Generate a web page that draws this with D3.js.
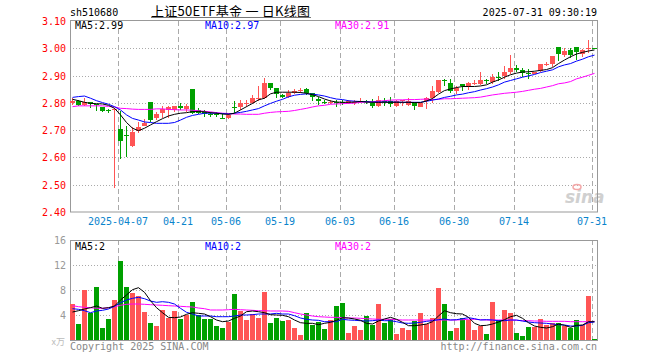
<!DOCTYPE html>
<html lang="zh">
<head>
<meta charset="UTF-8">
<title>上证50ETF基金 日K线图</title>
<script src="https://d3js.org/d3.v7.min.js"></script>
<style>
    body { margin: 0; background: #fff; }
    svg { display: block; }
    text { font-family: "DejaVu Sans Mono", monospace; font-size: 10px; }
    .title { font-family: "Noto Sans CJK SC", sans-serif; font-size: 13px; }
</style>
</head>
<body>
<svg id="chart" width="660" height="360"></svg>
<script>
// trading days shown, one per candle
const dates = [
    "2025-03-25","2025-03-26","2025-03-27","2025-03-28","2025-03-31","2025-04-01","2025-04-02","2025-04-03",
    "2025-04-07","2025-04-08","2025-04-09","2025-04-10","2025-04-11","2025-04-14","2025-04-15","2025-04-16",
    "2025-04-17","2025-04-18","2025-04-21","2025-04-22","2025-04-23","2025-04-24","2025-04-25","2025-04-28",
    "2025-04-29","2025-04-30","2025-05-06","2025-05-07","2025-05-08","2025-05-09","2025-05-12","2025-05-13",
    "2025-05-14","2025-05-15","2025-05-16","2025-05-19","2025-05-20","2025-05-21","2025-05-22","2025-05-23",
    "2025-05-26","2025-05-27","2025-05-28","2025-05-29","2025-05-30","2025-06-03","2025-06-04","2025-06-05",
    "2025-06-06","2025-06-09","2025-06-10","2025-06-11","2025-06-12","2025-06-13","2025-06-16","2025-06-17",
    "2025-06-18","2025-06-19","2025-06-20","2025-06-23","2025-06-24","2025-06-25","2025-06-26","2025-06-27",
    "2025-06-30","2025-07-01","2025-07-02","2025-07-03","2025-07-04","2025-07-07","2025-07-08","2025-07-09",
    "2025-07-10","2025-07-11","2025-07-14","2025-07-15","2025-07-16","2025-07-17","2025-07-18","2025-07-21",
    "2025-07-22","2025-07-23","2025-07-24","2025-07-25","2025-07-28","2025-07-29","2025-07-30","2025-07-31"
];

const open = [
    2.800,2.807,2.792,2.802,2.795,2.783,2.775,2.774,2.704,2.683,
    2.642,2.696,2.715,2.803,2.743,2.762,2.772,2.772,2.790,2.778,
    2.851,2.772,2.770,2.758,2.758,2.745,2.746,2.786,2.784,2.797,
    2.798,2.815,2.817,2.872,2.853,2.830,2.823,2.836,2.846,2.851,
    2.835,2.814,2.802,2.800,2.804,2.803,2.800,2.801,2.803,2.806,
    2.801,2.790,2.808,2.807,2.790,2.807,2.792,2.800,2.786,2.805,
    2.817,2.838,2.885,2.872,2.845,2.870,2.863,2.871,2.870,2.883,
    2.876,2.893,2.897,2.913,2.929,2.919,2.910,2.904,2.917,2.943,
    2.942,3.004,2.976,2.994,3.004,2.979,2.998,3.000
];
const high = [
    2.817,2.810,2.817,2.804,2.797,2.786,2.779,2.780,2.770,2.715,
    2.713,2.731,2.740,2.803,2.765,2.787,2.790,2.790,2.798,2.797,
    2.851,2.780,2.773,2.768,2.768,2.763,2.763,2.805,2.810,2.810,
    2.827,2.860,2.890,2.874,2.853,2.833,2.847,2.849,2.855,2.855,
    2.837,2.823,2.810,2.810,2.812,2.810,2.810,2.810,2.817,2.812,
    2.813,2.826,2.818,2.822,2.811,2.811,2.817,2.804,2.800,2.823,
    2.860,2.885,2.887,2.888,2.860,2.870,2.876,2.882,2.913,2.888,
    2.907,2.913,2.934,2.975,2.938,2.929,2.923,2.913,2.942,2.950,
    2.971,3.004,3.000,3.000,3.004,2.997,3.029,3.002
];
const low = [
    2.792,2.790,2.790,2.780,2.770,2.768,2.762,2.489,2.593,2.603,
    2.640,2.690,2.715,2.731,2.738,2.743,2.743,2.765,2.773,2.767,
    2.760,2.758,2.749,2.747,2.749,2.741,2.741,2.762,2.774,2.786,
    2.795,2.805,2.815,2.847,2.817,2.817,2.817,2.832,2.836,2.829,
    2.805,2.793,2.795,2.796,2.786,2.793,2.797,2.793,2.800,2.797,
    2.782,2.786,2.790,2.786,2.786,2.790,2.790,2.774,2.784,2.778,
    2.800,2.836,2.860,2.836,2.831,2.845,2.847,2.864,2.864,2.870,
    2.870,2.881,2.888,2.906,2.913,2.894,2.888,2.904,2.913,2.935,
    2.932,2.954,2.969,2.963,2.957,2.969,2.984,2.997
];
const close = [
    2.806,2.793,2.802,2.795,2.792,2.771,2.773,2.778,2.660,2.681,
    2.695,2.712,2.727,2.737,2.758,2.777,2.784,2.788,2.780,2.787,
    2.764,2.762,2.760,2.757,2.757,2.743,2.756,2.785,2.798,2.799,
    2.817,2.818,2.872,2.856,2.832,2.823,2.835,2.845,2.848,2.835,
    2.820,2.805,2.800,2.802,2.802,2.801,2.808,2.803,2.805,2.804,
    2.790,2.811,2.806,2.796,2.808,2.809,2.805,2.790,2.798,2.819,
    2.842,2.883,2.883,2.845,2.855,2.863,2.872,2.873,2.882,2.882,
    2.894,2.892,2.913,2.929,2.919,2.910,2.909,2.913,2.942,2.944,
    2.971,2.979,2.991,2.975,2.988,2.994,3.000,2.999
];

const ma5 = [
    2.813,2.808,2.802,2.798,2.797,2.796,2.791,2.780,2.756,2.728,
    2.707,2.698,2.707,2.719,2.731,2.742,2.752,2.758,2.762,2.764,
    2.768,2.768,2.767,2.764,2.762,2.759,2.758,2.762,2.774,2.786,
    2.798,2.811,2.817,2.833,2.839,2.839,2.839,2.839,2.838,2.835,
    2.830,2.823,2.814,2.807,2.803,2.802,2.802,2.803,2.805,2.803,
    2.802,2.802,2.802,2.802,2.802,2.802,2.802,2.801,2.801,2.807,
    2.816,2.832,2.845,2.851,2.856,2.860,2.860,2.860,2.862,2.866,
    2.876,2.884,2.894,2.903,2.909,2.913,2.914,2.916,2.919,2.922,
    2.929,2.944,2.957,2.969,2.979,2.985,2.990,2.994
];
const ma10 = [
    2.820,2.823,2.825,2.817,2.808,2.801,2.795,2.786,2.774,2.756,
    2.743,2.737,2.730,2.728,2.725,2.725,2.725,2.728,2.737,2.747,
    2.754,2.758,2.762,2.762,2.762,2.761,2.759,2.762,2.765,2.769,
    2.774,2.779,2.789,2.798,2.806,2.813,2.822,2.828,2.831,2.833,
    2.832,2.829,2.825,2.819,2.814,2.812,2.808,2.806,2.805,2.804,
    2.803,2.803,2.803,2.803,2.803,2.802,2.802,2.802,2.802,2.806,
    2.810,2.814,2.820,2.824,2.829,2.832,2.837,2.841,2.847,2.852,
    2.858,2.866,2.876,2.882,2.888,2.894,2.899,2.904,2.911,2.916,
    2.921,2.932,2.939,2.944,2.953,2.960,2.969,2.975
];
const ma30 = [
    2.786,2.789,2.789,2.789,2.789,2.789,2.787,2.785,2.780,2.779,
    2.777,2.776,2.776,2.776,2.778,2.778,2.776,2.775,2.774,2.774,
    2.773,2.771,2.769,2.767,2.764,2.762,2.761,2.759,2.759,2.758,
    2.758,2.758,2.762,2.765,2.767,2.768,2.769,2.772,2.776,2.780,
    2.785,2.789,2.791,2.795,2.796,2.797,2.798,2.799,2.802,2.803,
    2.804,2.806,2.808,2.810,2.811,2.811,2.812,2.812,2.813,2.814,
    2.812,2.813,2.815,2.815,2.816,2.817,2.818,2.819,2.821,2.825,
    2.829,2.832,2.835,2.837,2.839,2.842,2.846,2.850,2.853,2.858,
    2.863,2.870,2.873,2.878,2.888,2.894,2.901,2.908
];

// volume, in 万
const volume = [
    5.8,2.56,8.0,4.4,8.5,1.9,3.4,6.4,12.6,8.5,
    7.6,7.0,4.5,2.8,2.24,4.8,3.5,4.6,3.4,4.0,
    6.1,4.0,3.4,3.4,2.24,1.9,2.9,7.4,4.7,3.2,
    4.2,3.6,7.7,2.8,3.6,3.1,3.2,1.9,0.8,4.4,
    2.4,2.9,1.8,3.2,5.4,6.0,1.2,2.24,1.6,3.84,
    2.4,5.76,2.8,3.3,0.96,2.0,1.6,3.1,4.3,2.5,
    3.5,8.3,5.76,1.44,2.0,3.5,3.2,1.6,2.24,0.96,
    6.1,3.2,4.8,4.4,1.2,0.64,2.1,2.1,3.3,2.4,
    2.7,2.7,2.3,2.0,3.2,2.4,7.0,0.2
];
const volMa5 = [
    4.48,4.69,4.96,5.17,5.44,5.07,5.17,5.44,6.4,7.2,
    8.05,8.37,7.63,6.29,5.17,4.37,3.63,3.57,3.68,4.11,
    4.37,4.27,4.16,3.73,3.2,2.93,3.04,3.47,3.84,4.53,
    4.64,4.53,4.37,4.05,4.0,3.95,3.73,3.2,2.77,2.67,
    2.67,2.45,2.67,2.83,3.15,3.57,3.52,3.36,3.15,2.67,
    2.56,3.04,3.36,3.63,3.31,2.83,2.29,2.29,2.4,2.56,
    2.93,3.84,4.69,4.37,4.21,4.16,3.63,2.67,2.29,2.35,
    2.56,2.88,3.25,3.73,3.95,3.47,2.77,2.24,2.03,1.92,
    2.13,2.56,2.35,2.03,2.35,2.4,2.93,2.93
];
const volMa10 = [
    5.01,4.91,4.69,4.37,4.64,4.75,4.96,5.39,5.97,6.4,
    6.67,6.83,6.61,6.24,6.03,6.13,6.03,5.76,5.07,4.43,
    4.16,3.84,3.84,3.84,3.73,3.73,3.73,3.84,4.0,4.0,
    4.05,4.16,4.16,4.16,4.27,4.16,4.16,3.89,3.52,3.31,
    3.2,3.15,2.93,2.93,2.93,3.31,3.2,3.15,3.09,3.04,
    3.09,3.2,3.09,3.09,2.93,2.72,2.67,2.72,2.83,2.99,
    3.09,3.25,3.36,3.2,3.25,3.41,3.57,3.41,3.2,3.25,
    3.2,3.09,3.09,3.2,3.2,3.04,2.88,2.77,2.72,2.67,
    2.56,2.45,2.4,2.24,2.24,2.35,2.77,2.88
];
const volMa30 = [
    5.49,5.33,5.23,5.17,5.07,5.07,5.17,5.33,5.55,5.71,
    5.76,5.76,5.71,5.65,5.6,5.55,5.49,5.44,5.39,5.33,
    5.28,5.12,5.01,4.8,4.8,4.8,4.85,4.91,4.85,4.8,
    4.75,4.69,4.69,4.64,4.64,4.64,4.59,4.37,4.16,4.0,
    3.84,3.73,3.68,3.63,3.63,3.57,3.52,3.52,3.47,3.41,
    3.36,3.31,3.31,3.31,3.25,3.2,3.2,3.2,3.2,3.2,
    3.2,3.2,3.2,3.2,3.2,3.25,3.31,3.31,3.25,3.2,
    3.2,3.2,3.2,3.2,3.15,3.09,3.09,3.04,3.04,2.99,
    2.99,2.99,2.99,2.93,2.93,2.93,2.93,2.99
];

const priceTicks = [2.40, 2.50, 2.60, 2.70, 2.80, 2.90, 3.00, 3.10];
const volTicks = [4, 8, 12, 16];
const tickDates = ["2025-04-07","2025-04-21","2025-05-06","2025-05-19","2025-06-03","2025-06-16","2025-06-30","2025-07-14","2025-07-31"];
const tickLabels = ["2025-04-07","04-21","05-06","05-19","06-03","06-16","06-30","07-14","07-31"];

const upColor = "#ff5555";
const downColor = "#00a000";

const svg = d3.select("#chart");
const left = 70, right = 598;
const priceTop = 21, priceBottom = 212;
const volTop = 240, volBottom = 340;

const x = d3.scaleBand().domain(dates).range([left, right]).padding(0);
const y = d3.scaleLinear().domain([2.40, 3.10]).range([priceBottom, priceTop]);
const vy = d3.scaleLinear().domain([0, 16]).range([volBottom, volTop]);
const idx = d3.range(dates.length);
const cx = i => x(dates[i]) + 2.5;

// header
svg.append("text").attr("x", 70).attr("y", 16).text("sh510680");
svg.append("text").attr("class", "title").attr("x", 151).attr("y", 16)
    .attr("textLength", 159).attr("lengthAdjust", "spacing")
    .text("上证50ETF基金 一 日K线图");
svg.append("line").attr("x1", 151).attr("x2", 311).attr("y1", 17.5).attr("y2", 17.5)
    .attr("stroke", "#777").attr("stroke-width", 1);
svg.append("text").attr("x", 597).attr("y", 16).attr("text-anchor", "end")
    .text("2025-07-31 09:30:19");

// grid lines
function grid(top, bottom, hVals, scale) {
    svg.append("g").selectAll("line").data(hVals).enter().append("line")
        .attr("x1", left).attr("x2", right - 1)
        .attr("y1", d => Math.round(scale(d)) + 0.5).attr("y2", d => Math.round(scale(d)) + 0.5)
        .attr("stroke", "#aaa").attr("stroke-dasharray", "1,2");
    svg.append("g").selectAll("line").data(tickDates).enter().append("line")
        .attr("x1", d => x(d) + 0.5).attr("x2", d => x(d) + 0.5)
        .attr("y1", top).attr("y2", bottom)
        .attr("stroke", "#aaa").attr("stroke-dasharray", "5,3");
}
grid(priceTop, priceBottom, [2.50, 2.60, 2.70, 2.80, 2.90, 3.00], y);
grid(volTop, volBottom, [4, 8, 12], vy);

// sina watermark
svg.append("text").attr("x", 565).attr("y", 203)
    .style("font-family", "DejaVu Sans").style("font-size", "17px")
    .style("font-style", "italic").style("font-weight", "bold")
    .attr("fill", "#d0d0d0").text("sina");
svg.append("ellipse").attr("cx", 577).attr("cy", 187).attr("rx", 4).attr("ry", 2.5)
    .attr("fill", "none").attr("stroke", "#f3a8a8").attr("stroke-width", 1.5);

// frames
svg.append("rect").attr("x", left + 0.5).attr("y", priceTop - 0.5)
    .attr("width", right - left - 1).attr("height", priceBottom - priceTop + 0.5)
    .attr("fill", "none").attr("stroke", "#999");
svg.append("rect").attr("x", left + 0.5).attr("y", volTop + 0.5)
    .attr("width", right - left - 1).attr("height", volBottom - volTop)
    .attr("fill", "none").attr("stroke", "#999");

// axis labels
svg.append("g").selectAll("text").data(priceTicks).enter().append("text")
    .attr("x", 66).attr("y", d => y(d) + 4).attr("text-anchor", "end")
    .attr("fill", "#ff0000").text(d => d.toFixed(2));
svg.append("g").selectAll("text").data(volTicks).enter().append("text")
    .attr("x", 66).attr("y", d => vy(d) + 4).attr("text-anchor", "end")
    .attr("fill", "#999").text(d => d);
svg.append("text").attr("x", 65).attr("y", 345).attr("text-anchor", "end").attr("fill", "#bbb")
    .style("font-family", "Noto Sans CJK SC").style("font-size", "9px").text("x万");

// date labels
svg.append("g").selectAll("text").data(tickDates).enter().append("text")
    .attr("x", d => x(d)).attr("y", 225).attr("text-anchor", "middle")
    .attr("fill", "#0a84cc").text((d, i) => tickLabels[i]);

// candles
const isUp = i => close[i] >= open[i];
const candles = svg.append("g").attr("shape-rendering", "crispEdges");
candles.selectAll(".wick").data(idx).enter().append("rect")
    .attr("x", i => x(dates[i]) + 2).attr("width", 1)
    .attr("y", i => Math.round(y(high[i])))
    .attr("height", i => Math.max(1, Math.round(y(low[i])) - Math.round(y(high[i]))))
    .attr("fill", i => isUp(i) ? upColor : downColor);
candles.selectAll(".body").data(idx).enter().append("rect")
    .attr("x", i => x(dates[i])).attr("width", 5)
    .attr("y", i => Math.round(y(Math.max(open[i], close[i]))))
    .attr("height", i => Math.max(1, Math.round(y(Math.min(open[i], close[i]))) - Math.round(y(Math.max(open[i], close[i])))))
    .attr("fill", i => isUp(i) ? upColor : downColor);

// volume bars
svg.append("g").attr("shape-rendering", "crispEdges")
    .selectAll("rect").data(idx).enter().append("rect")
    .attr("x", i => x(dates[i])).attr("width", 5)
    .attr("y", i => Math.round(vy(volume[i])))
    .attr("height", i => volBottom - Math.round(vy(volume[i])))
    .attr("fill", i => isUp(i) ? upColor : downColor);

// moving average lines
function maLine(values, scale, color) {
    const line = d3.line().x(i => cx(i)).y(i => scale(values[i]));
    svg.append("path").datum(idx).attr("d", line)
        .attr("fill", "none").attr("stroke", color).attr("stroke-width", 1);
}
maLine(ma30, y, "#ff00ff");
maLine(ma10, y, "#0000ff");
maLine(ma5, y, "#000000");
maLine(volMa30, vy, "#ff00ff");
maLine(volMa10, vy, "#0000ff");
maLine(volMa5, vy, "#000000");

// legends
svg.append("text").attr("x", 75).attr("y", 29).attr("fill", "#000").text("MA5:2.99");
svg.append("text").attr("x", 205).attr("y", 29).attr("fill", "#0000ff").text("MA10:2.97");
svg.append("text").attr("x", 335).attr("y", 29).attr("fill", "#ff00ff").text("MA30:2.91");
svg.append("text").attr("x", 75).attr("y", 250).attr("fill", "#000").text("MA5:2");
svg.append("text").attr("x", 205).attr("y", 250).attr("fill", "#0000ff").text("MA10:2");
svg.append("text").attr("x", 335).attr("y", 250).attr("fill", "#ff00ff").text("MA30:2");

// footer
svg.append("text").attr("x", 70).attr("y", 350).attr("fill", "#888").text("Copyright 2025 SINA.COM");
svg.append("text").attr("x", 597).attr("y", 350).attr("text-anchor", "end").attr("fill", "#888")
    .text("http://finance.sina.com.cn");
</script>
</body>
</html>
